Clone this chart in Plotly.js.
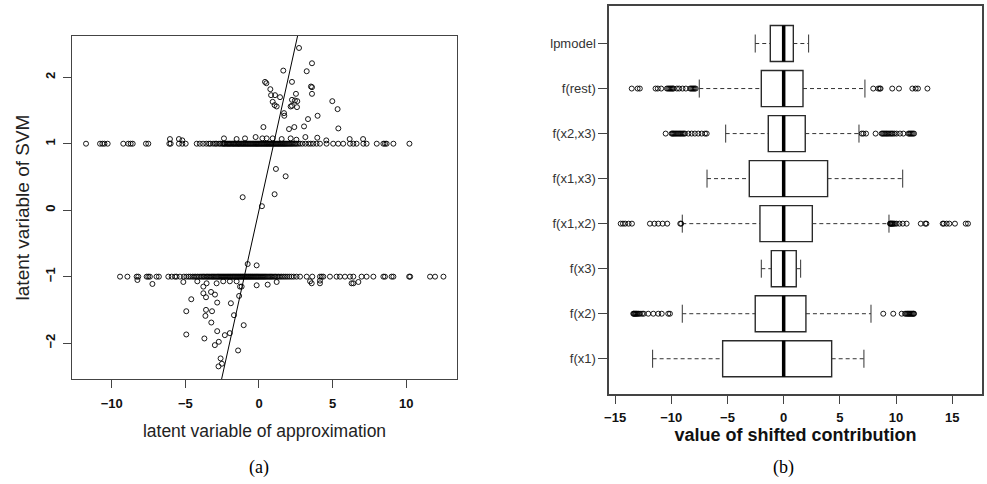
<!DOCTYPE html>
<html>
<head>
<meta charset="utf-8">
<script src="https://cdn.plot.ly/plotly-3.0.1.min.js"></script>
<style>html,body{margin:0;padding:0;background:#fff;}#chart{width:987px;height:484px;}</style>
</head>
<body>
<div id="chart"></div>
<script>
// ---------- Panel (a): latent variable scatter ----------
const upperBandLevel = 1;
const lowerBandLevel = -1;
const upperBandX = [-11.75,-10.8,-10.64,-10.5,-10.28,-9.22,-8.88,-8.72,-8.58,-7.68,-7.52,-6.09,-6.0,-5.44,-5.21,-4.98,-4.23,-4.02,-3.8,-3.58,-3.4,-3.3,-3.12,-2.98,-2.88,-2.72,-2.62,-2.5,-2.43,-2.36,-2.3,-2.21,-2.14,-2.08,-2.01,-1.95,-1.88,-1.8,-1.74,-1.69,-1.61,-1.55,-1.48,-1.41,-1.36,-1.3,-1.22,-1.16,-1.09,-1.03,-0.96,-0.9,-0.83,-0.77,-0.71,-0.64,-0.58,-0.52,-0.45,-0.39,-0.33,-0.26,-0.2,-0.14,-0.08,-0.02,0.04,0.11,0.17,0.23,0.3,0.36,0.42,0.49,0.55,0.61,0.68,0.74,0.8,0.87,0.93,0.99,1.06,1.12,1.18,1.25,1.31,1.37,1.44,1.5,1.57,1.63,1.7,1.76,1.83,1.9,1.97,2.05,2.12,2.2,2.28,2.37,2.46,2.55,2.66,2.79,2.95,3.15,3.36,3.52,3.69,3.91,4.14,4.59,5.04,5.38,5.72,6.18,6.41,6.63,7.09,7.31,8.0,8.45,8.56,8.67,9.13,10.22];
const lowerBandX = [-9.44,-8.94,-8.31,-8.2,-7.63,-7.52,-7.41,-6.96,-6.8,-6.16,-5.93,-5.71,-5.6,-5.37,-5.1,-4.93,-4.78,-4.66,-4.52,-4.41,-4.3,-4.18,-4.07,-3.95,-3.86,-3.77,-3.68,-3.58,-3.5,-3.41,-3.33,-3.24,-3.16,-3.08,-3.0,-2.92,-2.84,-2.77,-2.7,-2.62,-2.55,-2.48,-2.41,-2.34,-2.27,-2.2,-2.13,-2.06,-1.99,-1.93,-1.86,-1.79,-1.73,-1.66,-1.6,-1.53,-1.47,-1.4,-1.34,-1.27,-1.21,-1.14,-1.08,-1.01,-0.95,-0.88,-0.82,-0.75,-0.69,-0.62,-0.56,-0.49,-0.43,-0.36,-0.3,-0.23,-0.17,-0.1,-0.04,0.03,0.1,0.17,0.24,0.31,0.38,0.45,0.53,0.61,0.69,0.77,0.85,0.94,1.03,1.12,1.22,1.32,1.43,1.54,1.66,1.78,1.91,2.05,2.2,2.36,2.55,2.79,3.24,3.62,4.14,4.26,4.37,4.82,5.27,5.5,5.84,6.18,6.41,6.97,7.31,7.77,8.45,8.56,9.01,9.13,10.2,10.27,11.62,11.96,12.53];
const offBandX = [2.72,3.6,1.65,3.24,2.24,0.41,0.5,3.53,3.6,0.77,2.51,1.09,0.82,1.43,2.24,2.44,2.6,0.93,1.06,1.2,2.15,2.24,2.58,3.6,4.98,5.34,1.7,1.72,3.98,3.33,3.06,0.3,2.4,2.04,5.39,
  -6.05,-5.44,-5.21,-2.38,-1.52,-0.95,-0.23,0.23,0.52,0.93,1.54,2.15,2.54,3.15,3.96,4.57,6.16,7.07,
  1.15,1.81,1.06,-1.11,0.2,-0.77,-0.16,
  -8.26,-7.24,-5.14,-4.19,-3.56,-2.88,-2.43,-1.98,-1.52,-1.18,-0.16,0.59,1.2,3.47,3.58,4.14,4.14,6.29,6.41,6.75,
  -3.78,-1.29,-3.78,-3.26,-2.99,-3.6,-4.6,-1.35,-2.84,-1.91,-4.94,-3.6,-3.19,-1.7,-3.64,-3.24,-1.04,-2.84,-1.98,-2.32,-4.94,-3.71,-2.73,-3.0,-1.42,-2.61,-2.52,-2.75];
const offBandY = [2.44,2.21,2.1,2.09,1.93,1.93,1.91,1.86,1.85,1.82,1.75,1.73,1.73,1.7,1.66,1.65,1.64,1.63,1.58,1.56,1.56,1.57,1.55,1.75,1.64,1.52,1.46,1.42,1.42,1.37,1.26,1.25,1.25,1.22,1.23,
  1.07,1.07,1.05,1.08,1.07,1.08,1.1,1.08,1.08,1.08,1.07,1.08,1.06,1.1,1.09,1.05,1.07,1.07,
  0.62,0.51,0.24,0.195,0.06,-0.81,-0.83,
  -1.05,-1.11,-1.08,-1.07,-1.1,-1.1,-1.07,-1.07,-1.07,-1.15,-1.13,-1.12,-1.08,-1.07,-1.1,-1.1,-1.06,-1.1,-1.1,-1.08,
  -1.15,-1.15,-1.25,-1.23,-1.27,-1.31,-1.34,-1.29,-1.39,-1.4,-1.52,-1.5,-1.52,-1.58,-1.59,-1.69,-1.73,-1.82,-1.85,-1.88,-1.87,-1.93,-1.98,-2.03,-2.11,-2.23,-2.31,-2.35];
const ablineIntercept = 0;
const ablineSlope = 1;
const aXTicks = [-10, -5, 0, 5, 10];
const aYTicks = [-2, -1, 0, 1, 2];

// ---------- Panel (b): shifted contributions ----------
const categories = ["f(x1)","f(x2)","f(x3)","f(x1,x2)","f(x1,x3)","f(x2,x3)","f(rest)","lpmodel"];
const lowerWhisker = [-11.66,-9.02,-1.99,-9.02,-6.82,-5.16,-7.51,-2.53];
const q1 = [-5.43,-2.53,-1.10,-2.11,-3.06,-1.37,-1.99,-1.19];
const median = [0,0,0,0,0,0,0,0];
const q3 = [4.27,1.98,1.12,2.55,3.91,1.92,1.72,0.86];
const upperWhisker = [7.14,7.77,1.51,9.37,10.59,6.70,7.23,2.22];
const outliers = [
  [],
  [-13.38,-13.33,-13.27,-13.2,-13.14,-13.08,-12.99,-12.9,-12.78,-12.6,-12.45,-12.05,-11.6,-11.16,-10.85,-10.27,-10.12,8.86,9.75,10.5,10.8,10.9,11.0,11.08,11.16,11.24,11.32,11.4,11.48,11.55,11.6],
  [],
  [-14.5,-14.3,-14.1,-13.8,-13.5,-11.9,-11.5,-11.16,-10.77,-10.36,-9.2,-9.12,9.46,9.5,9.55,9.6,9.66,9.72,9.8,9.9,10.05,10.3,10.6,10.94,12.2,12.6,12.7,14.15,14.25,14.5,14.74,15.24,16.2,16.4],
  [],
  [-10.5,-9.97,-9.88,-9.8,-9.7,-9.6,-9.5,-9.4,-9.3,-9.2,-9.1,-8.98,-8.88,-8.78,-8.48,-8.19,-7.9,-7.6,-7.3,-7.0,-6.85,6.94,7.09,7.33,8.18,8.72,8.82,8.92,9.02,9.12,9.22,9.34,9.46,9.58,9.7,9.85,10.05,10.35,10.65,11.1,11.2,11.3,11.4,11.5,11.6],
  [-13.52,-13.0,-12.8,-11.4,-11.2,-10.9,-10.39,-10.28,-10.18,-10.08,-9.98,-9.88,-9.8,-9.5,-9.3,-9.0,-8.7,-8.33,-8.23,-8.13,-8.03,-7.93,-7.83,7.97,8.41,8.55,8.62,9.66,10.26,11.45,11.74,11.95,12.79],
  []
];
const bXTicks = [-15, -10, -5, 0, 5, 10, 15];

// ---------- build traces ----------
const xRangeA = [-12.7, 13.45];
const yRangeA = [-2.54, 2.62];
const circle = {symbol: 'circle-open', size: 5, color: '#000', line: {width: 0.9, color: '#000'}};
const traces = [];
traces.push({type:'scatter', mode:'markers', x: upperBandX, y: upperBandX.map(() => upperBandLevel), marker: circle, xaxis:'x', yaxis:'y', hoverinfo:'x+y'});
traces.push({type:'scatter', mode:'markers', x: lowerBandX, y: lowerBandX.map(() => lowerBandLevel), marker: circle, xaxis:'x', yaxis:'y', hoverinfo:'x+y'});
traces.push({type:'scatter', mode:'markers', x: offBandX, y: offBandY, marker: circle, xaxis:'x', yaxis:'y', hoverinfo:'x+y'});
traces.push({type:'scatter', mode:'lines', x: xRangeA, y: xRangeA.map(v => ablineIntercept + ablineSlope * v), line:{color:'#000', width:1}, xaxis:'x', yaxis:'y', hoverinfo:'skip'});

const pos = categories.map((c, i) => i + 1);
const halfBox = 0.4, halfStaple = 0.2;
traces.push({type:'box', orientation:'h', y: pos, q1: q1, median: median, q3: q3, lowerfence: q1, upperfence: q3,
  width: 2*halfBox, whiskerwidth: 0, fillcolor:'#fff', line:{color:'#2a2a2a', width:1.4}, boxpoints:false, xaxis:'x2', yaxis:'y2', hoverinfo:'skip'});
const wx = [], wy = [], sx = [], sy = [], mx = [], my = [], ox = [], oy = [];
pos.forEach((p, i) => {
  wx.push(lowerWhisker[i], q1[i], null, q3[i], upperWhisker[i], null);
  wy.push(p, p, null, p, p, null);
  sx.push(lowerWhisker[i], lowerWhisker[i], null, upperWhisker[i], upperWhisker[i], null);
  sy.push(p - halfStaple, p + halfStaple, null, p - halfStaple, p + halfStaple, null);
  mx.push(median[i], median[i], null);
  my.push(p - halfBox, p + halfBox, null);
  outliers[i].forEach(v => { ox.push(v); oy.push(p); });
});
traces.push({type:'scatter', mode:'lines', x: wx, y: wy, line:{color:'#333', width:1, dash:'4px,3px'}, xaxis:'x2', yaxis:'y2', hoverinfo:'skip'});
traces.push({type:'scatter', mode:'lines', x: sx, y: sy, line:{color:'#333', width:1}, xaxis:'x2', yaxis:'y2', hoverinfo:'skip'});
traces.push({type:'scatter', mode:'lines', x: mx, y: my, line:{color:'#000', width:3.5}, xaxis:'x2', yaxis:'y2', hoverinfo:'skip'});
traces.push({type:'scatter', mode:'markers', x: ox, y: oy, marker: circle, xaxis:'x2', yaxis:'y2', hoverinfo:'x'});

const frame = {showline:true, mirror:true, linecolor:'#444', linewidth:1.3, showgrid:false, zeroline:false, ticks:'outside', ticklen:8, tickcolor:'#444', tickwidth:1};
const tickBold = {family:'Liberation Sans, Arial, sans-serif', size:13, color:'#111', weight:'bold'};

const layout = {
  width: 987, height: 484,
  margin: {l:0, r:0, t:0, b:0},
  paper_bgcolor:'#fff', plot_bgcolor:'#fff',
  showlegend:false,
  xaxis: Object.assign({}, frame, {domain:[0.0730, 0.4630], range: xRangeA, tickvals: aXTicks, tickfont: tickBold, ticklabelstandoff: 4,
    title:{text:'latent variable of approximation', standoff:14, font:{family:'Liberation Sans, Arial', size:17.5, color:'#222'}}}),
  yaxis: Object.assign({}, frame, {domain:[0.2169, 0.9256], range: yRangeA, tickvals: aYTicks, tickangle:-90, tickfont: tickBold, ticklabelstandoff: 3,
    title:{text:'latent variable of SVM', standoff:8, font:{family:'Liberation Sans, Arial', size:19, color:'#222'}}}),
  xaxis2: Object.assign({}, frame, {domain:[0.6167, 0.9952], range:[-15.57, 17.67], tickvals: bXTicks, tickfont: tickBold, anchor:'y2', ticklabelstandoff: 3,
    title:{text:'value of shifted contribution', standoff:2, font:{family:'Liberation Sans, Arial', size:18, color:'#111', weight:'bold'}}}),
  yaxis2: Object.assign({}, frame, {domain:[0.1853, 0.9882], range:[0.21, 8.84], tickvals: pos, ticktext: categories, ticklen:9, anchor:'x2',
    tickfont:{family:'Liberation Sans, Arial', size:13, color:'#333'}}),
  annotations: [
    {text:'(a)', xref:'paper', yref:'paper', x:0.2624, y:0.0351, showarrow:false, xanchor:'center', yanchor:'middle', font:{family:'Liberation Serif, DejaVu Serif, serif', size:18, color:'#000'}},
    {text:'(b)', xref:'paper', yref:'paper', x:0.7938, y:0.0351, showarrow:false, xanchor:'center', yanchor:'middle', font:{family:'Liberation Serif, DejaVu Serif, serif', size:18, color:'#000'}}
  ]
};
Plotly.newPlot('chart', traces, layout, {staticPlot:true, displayModeBar:false});
</script>
</body>
</html>
